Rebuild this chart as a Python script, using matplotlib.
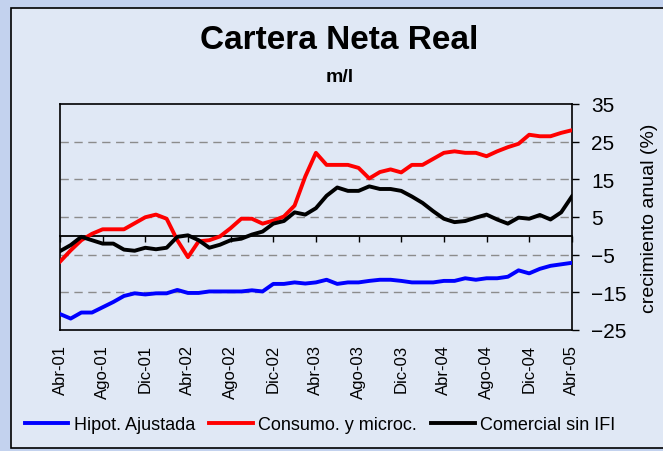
import numpy as np
import matplotlib.pyplot as plt
from matplotlib.patches import Rectangle

# monthly series, Abr-01 .. Abr-05
hipot = [-20.8, -22.0, -20.4, -20.4, -19.0, -17.6, -16.0, -15.3, -15.6, -15.3,
         -15.3, -14.4, -15.2, -15.2, -14.8, -14.8, -14.8, -14.8, -14.5, -14.8,
         -12.8, -12.8, -12.4, -12.7, -12.4, -11.7, -12.8, -12.4, -12.4, -12.0,
         -11.7, -11.7, -12.0, -12.4, -12.4, -12.4, -12.0, -12.0, -11.3, -11.7,
         -11.3, -11.3, -10.9, -9.2, -10.0, -8.8, -8.0, -7.6, -7.2]
consumo = [-6.9, -3.9, -1.2, 0.5, 1.7, 1.7, 1.7, 3.3, 4.9, 5.6,
           4.5, -1.2, -5.7, -1.5, -1.2, -0.2, 2.0, 4.5, 4.5, 3.2,
           4.0, 5.1, 8.0, 15.7, 22.0, 18.8, 18.8, 18.8, 18.0, 15.2,
           16.9, 17.6, 16.8, 18.8, 18.8, 20.4, 22.0, 22.4, 22.0, 22.0,
           21.1, 22.4, 23.5, 24.4, 26.8, 26.4, 26.4, 27.3, 28.0]
comercial = [-4.1, -2.5, -0.3, -1.2, -2.1, -2.1, -3.7, -4.0, -3.2, -3.6,
             -3.2, -0.3, 0.1, -1.2, -3.2, -2.4, -1.2, -0.8, 0.3, 1.1,
             3.2, 3.9, 6.2, 5.6, 7.3, 10.6, 12.8, 11.9, 11.9, 13.1,
             12.4, 12.4, 11.9, 10.4, 8.7, 6.5, 4.5, 3.6, 3.9, 4.8,
             5.6, 4.3, 3.2, 4.8, 4.5, 5.5, 4.3, 6.2, 10.4]
tick_labels = ['Abr-01', 'Ago-01', 'Dic-01', 'Abr-02', 'Ago-02', 'Dic-02', 'Abr-03',
               'Ago-03', 'Dic-03', 'Abr-04', 'Ago-04', 'Dic-04', 'Abr-05']
yticks = [-25, -15, -5, 5, 15, 25, 35]

plt.rcParams['font.family'] = ['Liberation Sans', 'DejaVu Sans']

fig = plt.figure(figsize=(6.63, 4.52), dpi=100, facecolor='#C3D2EE')
fig.patches.append(Rectangle((11/663, 3/452), 1.0, 1 - 12/452, transform=fig.transFigure,
                             facecolor='#E0E8F5', edgecolor='black', linewidth=1.2, zorder=-10))

ax = fig.add_axes([0.0905, 0.268, 0.772, 0.5])
ax.set_facecolor('#E0E8F5')
x = np.arange(len(hipot))

ax.plot(x, hipot, color='#0000FF', lw=2.8, label='Hipot. Ajustada', zorder=3)
ax.plot(x, consumo, color='#FF0000', lw=2.8, label='Consumo. y microc.', zorder=3)
ax.plot(x, comercial, color='black', lw=2.8, label='Comercial sin IFI', zorder=3)

ax.set_xlim(0, len(hipot) - 1)
ax.set_ylim(-25, 35)
for v in yticks[1:-1]:
    ax.axhline(v, color='#8C8C8C', lw=1.0, ls=(0, (6, 4)), zorder=1)

# zero line carries the month ticks
ax.spines['bottom'].set_position(('data', 0))
ax.spines['bottom'].set_linewidth(1.3)
ax.set_xticks(x[::4])
ax.tick_params(axis='x', direction='out', length=4, width=1, labelbottom=False)
for s in ['top', 'left', 'right']:
    ax.spines[s].set_linewidth(1.2)

sec = ax.secondary_xaxis(0.0)
sec.set_xticks(x[::4])
sec.set_xticklabels(tick_labels, rotation=90, fontsize=12)
sec.tick_params(length=0, pad=10)
sec.spines['bottom'].set_linewidth(1.2)

ax.yaxis.tick_right()
ax.yaxis.set_label_position('right')
ax.set_yticks(yticks)
ax.tick_params(axis='y', direction='out', length=5, width=1, labelsize=15, pad=9)
ax.set_ylabel('crecimiento anual (%)', fontsize=14, labelpad=10)

fig.text(0.511, 0.911, 'Cartera Neta Real', ha='center', va='center', fontsize=24,
         fontweight='bold')
fig.text(0.513, 0.829, 'm/l', ha='center', va='center', fontsize=14,
         fontweight='bold')

fig.legend(loc='center', bbox_to_anchor=(0.483, 0.058), ncol=3, frameon=False,
           fontsize=13, handlelength=2.4, handletextpad=0.3, columnspacing=0.8)

fig.savefig('out.png', dpi=100, facecolor=fig.get_facecolor())
